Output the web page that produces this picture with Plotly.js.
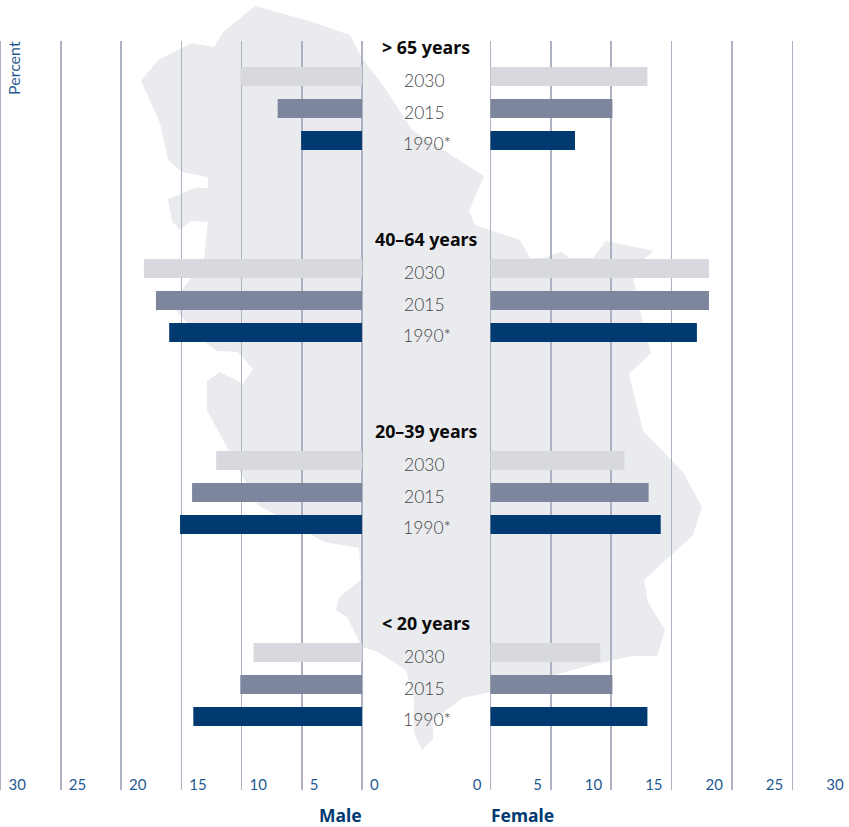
<!DOCTYPE html>
<html>
<head>
<meta charset="utf-8">
<script src="https://cdn.plot.ly/plotly-3.0.1.min.js"></script>
<style>html,body{margin:0;padding:0;background:#fff;overflow:hidden;width:849px;height:827px}
#chart{margin-left:-6px}</style>
</head>
<body>
<div id="chart"></div>
<script>
// Data (percent)
var ageGroups = ['> 65 years', '40–64 years', '20–39 years', '< 20 years'];
var yearLabels = ['2030', '2015', '1990*'];
var male2030   = [10.1, 18.1, 12.1,  9.0];
var male2015   = [ 7.0, 17.1, 14.1, 10.1];
var male1990   = [ 5.05, 16.0, 15.1, 14.0];
var female2030 = [13.0, 18.1, 11.1,  9.1];
var female2015 = [10.1, 18.1, 13.1, 10.1];
var female1990 = [ 7.0, 17.1, 14.1, 13.0];
var tickValues = [0, 5, 10, 15, 20, 25, 30];

// Decorative map silhouette, in page pixels
var mapX = [255,306,350,362,385,412,484,469,475,520,530,543,561,570,593,606,654,645,633,643,651,629,643,683,702,693,644,648,665,657,633,595,490,463,433,433,422,414,414,406,378,362,347,336,339,361,359,324,258,207,207,220,243,253,238,217,205,177,177,191,204,208,191,180,172,168,195,208,208,182,168,166,160,141,158,192,214,223];
var mapY = [6,20,35,58,88,130,176,211,225,240,258,258,252,258,258,241,251,258,278,323,353,374,431,472,507,535,580,602,630,656,656,664,692,698,720,739,750,732,700,670,652,647,617,610,597,580,548,542,505,410,381,372,384,369,352,351,342,312,297,278,258,222,221,230,221,199,188,188,177,172,160,150,123,81,60,43,47,32];

var OFF = 6, W = 861, H = 827, T = 41, B = 790, EXT = 2, INNER = 30;
var SCALE_M = 361.5 / 30, SCALE_F = 362.1 / 30;
var colors = ['#d7d9de', '#7e869e', '#003a70'];
var maleSeries = [male2030, male2015, male1990];
var femaleSeries = [female2030, female2015, female1990];
var FONT = 'Lato, sans-serif', HEAD = '"Noto Sans", sans-serif';

function px(x) { return (x + OFF) / W; }
function py(y) { return 1 - (y - T) / (B - T); }

// Row categories: one heading row, three year rows, two empty rows per age group
var rowOrder = [];
ageGroups.forEach(function (g, gi) {
  rowOrder.push(g);
  yearLabels.forEach(function (y) { rowOrder.push(g + '|' + y); });
  if (gi < ageGroups.length - 1) { rowOrder.push(g + '|a'); rowOrder.push(g + '|b'); }
});

var traces = [];
yearLabels.forEach(function (yr, i) {
  var ys = ageGroups.map(function (g) { return g + '|' + yr; });
  traces.push({type:'bar', orientation:'h', x:maleSeries[i], y:ys, xaxis:'x', yaxis:'y',
    width:0.6, marker:{color:colors[i], line:{width:0}}, hoverinfo:'x', showlegend:false});
  traces.push({type:'bar', orientation:'h', x:femaleSeries[i], y:ys, xaxis:'x2', yaxis:'y',
    width:0.6, marker:{color:colors[i], line:{width:0}}, hoverinfo:'x', showlegend:false});
});

var annotations = [];
ageGroups.forEach(function (g) {
  annotations.push({xref:'paper', yref:'y', x:px(426), y:g, yshift:-3, text:'<b>' + g.replace('<','&lt;').replace('>','&gt;') + '</b>',
    showarrow:false, font:{family:HEAD, size:17.8, color:'#0a0a0a'}, xanchor:'center', yanchor:'middle'});
  yearLabels.forEach(function (y, i) {
    annotations.push({xref:'paper', yref:'y', x:px(i === 2 ? 426.5 : 424), y:g + '|' + y, yshift:(i === 2 ? -3 : -4), text:y,
      showarrow:false, font:{family:FONT, weight:300, size:17.5, color:'#444444'}, xanchor:'center', yanchor:'middle'});
  });
});
annotations.push({xref:'paper', yref:'paper', x:px(13.5), y:py(68.5), text:'Percent', textangle:-90, showarrow:false,
  font:{family:FONT, size:16, color:'#1f5a92'}, xanchor:'center', yanchor:'middle'});
annotations.push({xref:'paper', yref:'paper', x:px(364), y:py(815), text:'<b>Male</b>', showarrow:false,
  font:{family:HEAD, size:17.5, color:'#003a70'}, xanchor:'right', yanchor:'middle'});
annotations.push({xref:'paper', yref:'paper', x:px(488.5), y:py(815), text:'<b>Female</b>', showarrow:false,
  font:{family:HEAD, size:17.5, color:'#003a70'}, xanchor:'left', yanchor:'middle'});

var mapPath = mapX.map(function (x, i) {
  return (i ? 'L' : 'M') + px(x).toFixed(5) + ',' + py(mapY[i]).toFixed(5);
}).join(' ') + ' Z';

var axisCommon = {
  tickvals: tickValues, ticktext: tickValues.map(String), showgrid:true, gridcolor:'#adb2c3', gridwidth:1.5,
  zeroline:false, showline:false, ticks:'', fixedrange:true,
  tickfont:{family:FONT, size:15, color:'#1f5a92'}, anchor:'y'
};
var layout = {
  width:W, height:H, margin:{l:0, r:0, t:T, b:H-B, pad:0},
  paper_bgcolor:'rgba(0,0,0,0)', plot_bgcolor:'rgba(0,0,0,0)',
  barmode:'overlay', showlegend:false,
  xaxis:Object.assign({}, axisCommon, {domain:[px(0.5 - EXT), px(362 + INNER)], range:[30 + EXT / SCALE_M, -INNER / SCALE_M],
    ticklabelposition:'inside right', ticklabelshift:-8, ticklabelstandoff:-9}),
  xaxis2:Object.assign({}, axisCommon, {domain:[px(490.5 - INNER), px(852.6 + EXT)], range:[-INNER / SCALE_F, 30 + EXT / SCALE_F],
    ticklabelposition:'inside left', ticklabelshift:-9, ticklabelstandoff:-9}),
  yaxis:{type:'category', categoryorder:'array', categoryarray:rowOrder, range:[23.297, -0.109],
    showgrid:false, zeroline:false, showticklabels:false, ticks:'', fixedrange:true},
  shapes:[{type:'path', xref:'paper', yref:'paper', path:mapPath, fillcolor:'#e9ebef', line:{width:0}, layer:'below'}],
  annotations:annotations
};
Plotly.newPlot('chart', traces, layout, {staticPlot:true, displayModeBar:false});
</script>
</body>
</html>
